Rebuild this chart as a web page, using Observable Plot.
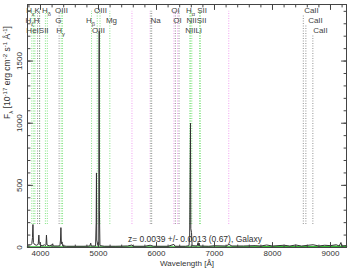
<!DOCTYPE html>
<html><head><meta charset="utf-8">
<script src="https://cdn.jsdelivr.net/npm/d3@7"></script>
<script src="https://cdn.jsdelivr.net/npm/@observablehq/plot@0.6"></script>
<style>body{margin:0;background:#fff;}</style>
</head><body><div id="chart"></div>
<script>
const redshift = 0.0039;
const specWave = [3776,3800,3830,3850,3862,3870,3878,3895,3930,3960,3972,3980,4000,4040,4070,4085,4095,4103,4112,4150,4200,4210,4220,4300,4335,4345,4352,4360,4372,4380,4450,4600,4750,4850,4866,4875,4950,4960,4965,4970,4990,5005,5010,5013,5016,5025,5100,5300,5500,5577,5600,5800,5890,5950,6200,6300,6320,6500,6560,6572,6586,6592,6604,6614,6700,6717,6725,6735,6745,6900,7000,7200,7250,7300,7500,7700,7800,7900,8000,8200,8300,8400,8500,8700,8800,8900,9000,9100,9150,9180,9195,9276];
const specFlux = [18,22,20,30,80,185,40,25,18,25,100,30,18,15,22,15,25,100,20,14,20,30,12,12,14,60,160,30,45,14,10,10,10,12,35,12,12,200,600,60,14,20,1500,1740,300,15,10,10,12,20,10,10,18,10,10,25,10,10,14,80,1000,150,120,15,12,40,15,35,12,10,14,12,25,12,12,15,12,20,12,18,12,20,12,22,12,18,15,22,12,40,12,15];
const noiseWave = [3776,4500,5000,6000,7000,8000,8600,9000,9276];
const noiseFlux = [4,3,3,3,4,5,6,7,9];
const emissionRest = [3835.4,3868.8,3889.0,3970.1,4068.6,4101.7,4340.5,4363.2,4861.3,4958.9,5006.8,5175.3,5875.7,6548.1,6562.8,6583.4,6716.4,6730.8];
const absorptionRest = [3933.7,3968.5,4304.4,5894.0,6300.3,6363.8];
const calciumRest = [8498.0,8542.1,8662.1];
const skyWave = [5577,5890,6300,6364,7246];
const labelText = ["H_εK","H_δ","OIII","OIII","OI","H_α SII","CaII","H_ζH","G","H_β","Mg","Na","OI","NIISII","CaII","HeISII","H_γ","OIII","NIILi","CaII"];
const labelWave = [3871,4104,4362,5035,6328,6690,8672,3862,4310,4862,5224,5983,6362,6690,8741,3948,4345,5000,6638,8827];
const labelRow = [0,0,0,0,0,0,0,1,1,1,1,1,1,1,1,2,2,2,2,2];
const xTicks = [4000,5000,6000,7000,8000,9000];
const xMinor = d3.range(3800,9300,200);
const yTicks = [0,500,1000,1500];
const yMinor = d3.range(0,2000,100);
const xTitle = "Wavelength [Å]";
const yTitle = "F_λ [10^{-17} erg cm^{-2} s^{-1} Å^{-1}]";
const zNote = "z= 0.0039 +/- 0.0013 (0.67), Galaxy";

const xDomain = [3776, 9276];
const yDomain = [0, 1955];
const obs = w => w * (1 + redshift);
const tickShape = {draw(ctx, l) { ctx.moveTo(0, 0); ctx.lineTo(0, -l); }};
const ink = "#444";

const spectrum = specWave.map((w, i) => ({w, f: specFlux[i]}));
const noise = noiseWave.map((w, i) => ({w, f: noiseFlux[i]}));
const labels = labelText.map((t, i) => ({t, w: labelWave[i], row: labelRow[i]}));
const caLines = calciumRest.map((w, i) => ({w: obs(w), top: [1870, 1790, 1710][i]}));

const tickMarks = (vals, axis, len) => {
  const common = {length: len, shape: tickShape, anchor: "start", stroke: ink, strokeWidth: 1};
  if (axis === "x") return [
    Plot.vector(vals, {...common, x: d => d, frameAnchor: "bottom", rotate: 0}),
    Plot.vector(vals, {...common, x: d => d, frameAnchor: "top", rotate: 180})
  ];
  return [
    Plot.vector(vals, {...common, y: d => d, frameAnchor: "left", rotate: 90}),
    Plot.vector(vals, {...common, y: d => d, frameAnchor: "right", rotate: -90})
  ];
};

const chart = Plot.plot({
  width: 349, height: 269,
  marginLeft: 27, marginRight: 3, marginTop: 4, marginBottom: 22,
  style: {fontFamily: "'Liberation Sans', Arial, sans-serif", fontSize: "8px", color: "#333", background: "#fff"},
  x: {domain: xDomain, axis: null},
  y: {domain: yDomain, axis: null},
  marks: [
    Plot.ruleX(emissionRest.map(obs), {x: d => d, y1: 185, y2: 1900, stroke: "#66dd66", strokeDasharray: "1,1.5", strokeWidth: 0.8}),
    Plot.ruleX(skyWave, {x: d => d, y1: 185, y2: 1900, stroke: "#ee88ee", strokeDasharray: "1,1.5", strokeWidth: 0.8}),
    Plot.ruleX(absorptionRest.map(obs), {x: d => d, y1: 185, y2: 1900, stroke: "#777", strokeDasharray: "1,1.5", strokeWidth: 0.8}),
    Plot.ruleX(caLines, {x: "w", y1: 185, y2: "top", stroke: "#777", strokeDasharray: "1,1.5", strokeWidth: 0.8}),
    Plot.line(noise, {x: "w", y: "f", stroke: "#33bb33", strokeWidth: 1.6}),
    Plot.line(spectrum, {x: "w", y: "f", stroke: "#333", strokeWidth: 1}),
    Plot.text(labels, {x: "w", frameAnchor: "top", text: "t", fill: "#444", fontSize: 8, lineAnchor: "top", ariaLabel: "line-labels"}),
    Plot.frame({stroke: ink}),
    ...tickMarks(xMinor, "x", 2.5),
    ...tickMarks(xTicks, "x", 5),
    ...tickMarks(yMinor, "y", 2.5),
    ...tickMarks(yTicks, "y", 5),
    Plot.axisX(xTicks, {anchor: "bottom", tickSize: 0, tickPadding: 3, fill: "#333", fontSize: 8, label: null, tickFormat: "d"}),
    Plot.axisY(yTicks, {anchor: "left", tickSize: 0, tickPadding: 6, tickRotate: -90, fill: "#333", fontSize: 8, label: null, tickFormat: "d"}),
    Plot.text([xTitle], {frameAnchor: "bottom", dy: 18, text: d => d, fill: "#333", fontSize: 8}),
    Plot.text([yTitle], {frameAnchor: "left", dx: -20, dy: -7, rotate: -90, text: d => d, fill: "#333", fontSize: 8.5}),
    Plot.text([zNote], {frameAnchor: "bottom", dx: 8, dy: -6, text: d => d, fill: "#333", fontSize: 8.5})
  ]
});

document.getElementById("chart").appendChild(chart);
// Shift each line label down by its row
const labelGroup = chart.querySelector("g[aria-label='line-labels']") || chart.querySelectorAll("g[aria-label='text']")[0];
labelGroup.querySelectorAll("text").forEach((t, i) => {
  const tr = t.getAttribute("transform") || "";
  t.setAttribute("transform", tr + ` translate(0,${3 + labels[i].row * 10})`);
});

// sub/superscripts
const NS = "http://www.w3.org/2000/svg";
chart.querySelectorAll("text").forEach(el => {
  const s = el.textContent;
  if (!/[_^]/.test(s) || el.children.length > 1) return;
  const parts = []; let buf = ""; let i = 0;
  while (i < s.length) {
    const c = s[i];
    if (c === "_" || c === "^") {
      if (buf) { parts.push({t: buf, k: 0}); buf = ""; }
      let t;
      if (s[i + 1] === "{") { const j = s.indexOf("}", i); t = s.slice(i + 2, j); i = j + 1; }
      else { t = s[i + 1]; i += 2; }
      parts.push({t, k: c === "_" ? 2.5 : -3});
    } else { buf += c; i++; }
  }
  if (buf) parts.push({t: buf, k: 0});
  const host = el.querySelector("tspan") || el;
  host.textContent = "";
  let cur = 0;
  for (const p of parts) {
    const ts = document.createElementNS(NS, "tspan");
    ts.setAttribute("dy", p.k - cur); cur = p.k;
    if (p.k !== 0) ts.setAttribute("font-size", "0.72em");
    ts.textContent = p.t;
    host.appendChild(ts);
  }
});
</script>
</body></html>
